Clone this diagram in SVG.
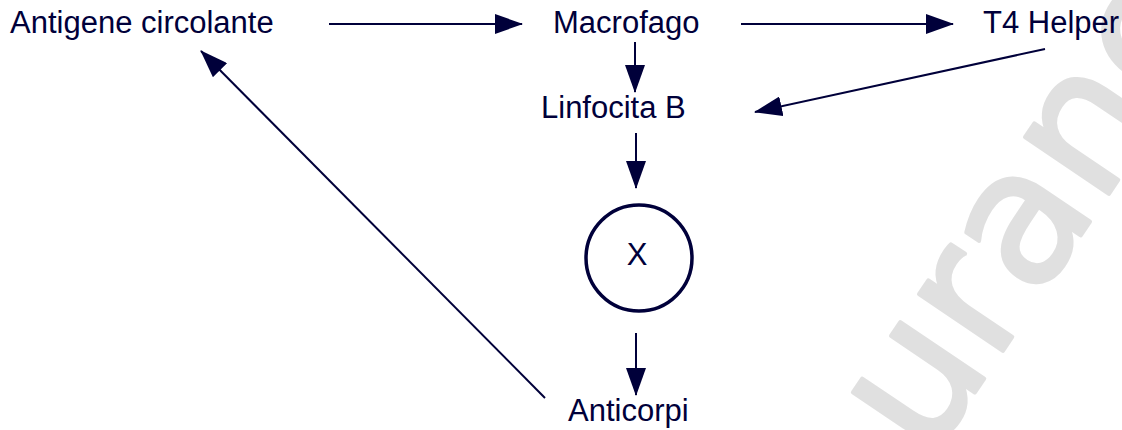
<svg xmlns="http://www.w3.org/2000/svg" width="1122" height="430" viewBox="0 0 1122 430">
<style>
.lbl{font-family:"Liberation Sans",Arial,sans-serif;font-size:31px;fill:#00003a}
.wm{font-family:"DejaVu Sans",Verdana,sans-serif;font-size:185px;fill:#e0e0e0;stroke:#e0e0e0;stroke-width:4;stroke-linejoin:round}
.edge{stroke:#00003a;stroke-width:2;fill:none;marker-end:url(#ah)}
</style>
<defs>
<marker id="ah" viewBox="0 0 28 20" refX="27" refY="10" markerWidth="28" markerHeight="20" markerUnits="userSpaceOnUse" orient="auto">
<path d="M0,0 L28,10 L0,20 z" fill="#00003a"/>
</marker>
</defs>
<rect width="1122" height="430" fill="#ffffff"/>
<g id="watermark">
<text class="wm" transform="translate(928,462) rotate(-56)" x="0" y="0">urane</text>
</g>
<g id="connectors">
<line class="edge" x1="329" y1="24" x2="522" y2="24"/>
<line class="edge" x1="741" y1="24" x2="953" y2="24"/>
<line class="edge" x1="635" y1="42" x2="635" y2="92"/>
<line class="edge" x1="1045" y1="49" x2="755" y2="112"/>
<line class="edge" x1="636" y1="133" x2="636" y2="188"/>
<line class="edge" x1="636" y1="333" x2="636" y2="395"/>
<line class="edge" x1="545" y1="398" x2="201" y2="51"/>
</g>
<g id="antigene"><text class="lbl" x="10" y="33">Antigene circolante</text></g>
<g id="macrofago"><text class="lbl" x="553" y="33">Macrofago</text></g>
<g id="t4helper"><text class="lbl" x="983" y="33">T4 Helper</text></g>
<g id="linfocitab"><text class="lbl" x="541" y="118">Linfocita B</text></g>
<g id="x"><circle cx="639" cy="258" r="53" fill="none" stroke="#00003a" stroke-width="3.5"/><text class="lbl" x="637" y="265" text-anchor="middle">X</text></g>
<g id="anticorpi"><text class="lbl" x="568" y="421">Anticorpi</text></g>
</svg>
